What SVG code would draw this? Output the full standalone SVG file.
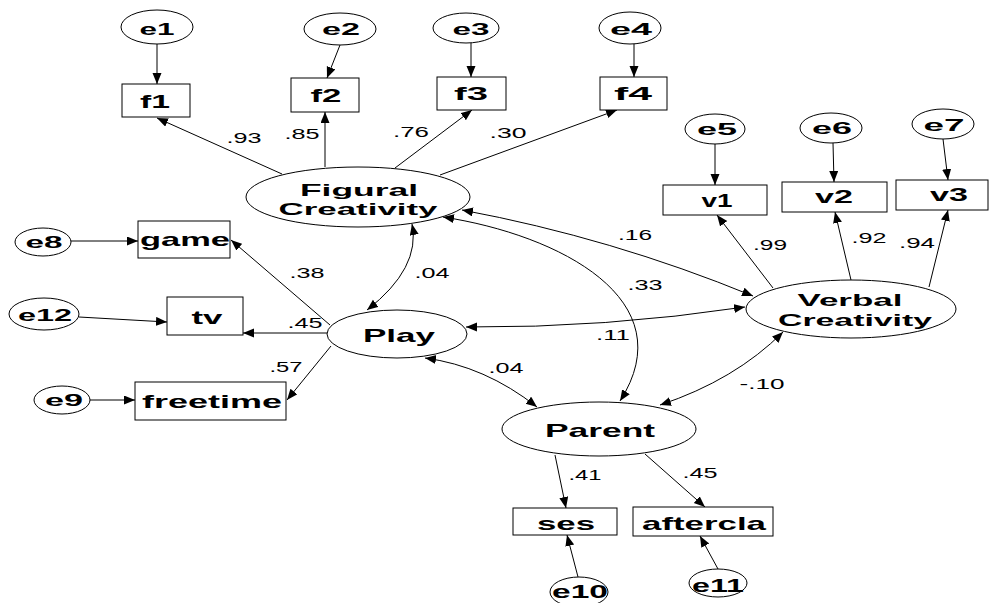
<svg xmlns="http://www.w3.org/2000/svg" width="992" height="603" viewBox="0 0 992 603">
<style>
.nd{fill:#fff;stroke:#000;stroke-width:1}
.ln{fill:none;stroke:#000;stroke-width:1;marker-end:url(#ah)}
.bi{fill:none;stroke:#000;stroke-width:1;marker-end:url(#ah);marker-start:url(#ah)}
.lb{font-family:"Liberation Sans",Arial,sans-serif;font-weight:bold;font-size:19px;text-anchor:middle;fill:#000}
.lt{font-family:"Liberation Sans",Arial,sans-serif;font-weight:bold;font-size:17px;text-anchor:middle;fill:#000}
.el{font-family:"Liberation Sans",Arial,sans-serif;font-weight:bold;font-size:17px;text-anchor:middle;fill:#000}
.num{font-family:"Liberation Sans",Arial,sans-serif;font-size:14px;text-anchor:middle;fill:#000}
</style>
<defs>
<marker id="ah" markerUnits="userSpaceOnUse" markerWidth="12" markerHeight="10" refX="11" refY="4.5" orient="auto-start-reverse">
<path d="M0,0 L11,4.5 L0,9 z" fill="#000"/>
</marker>
</defs>
<rect width="992" height="603" fill="#fff"/>
<g id="connectors">
<line class="ln" x1="157" y1="44" x2="157" y2="84"/>
<line class="ln" x1="340" y1="45" x2="327" y2="78"/>
<line class="ln" x1="471" y1="43" x2="471" y2="77"/>
<line class="ln" x1="634" y1="44" x2="634" y2="77"/>
<line class="ln" x1="282" y1="174" x2="157" y2="118"/>
<line class="ln" x1="325" y1="167" x2="325" y2="112"/>
<line class="ln" x1="395" y1="168" x2="472" y2="110"/>
<line class="ln" x1="440" y1="175" x2="617" y2="110"/>
<line class="ln" x1="715" y1="144" x2="715" y2="185"/>
<line class="ln" x1="833" y1="143" x2="834" y2="182"/>
<line class="ln" x1="943" y1="139" x2="948" y2="180"/>
<line class="ln" x1="773" y1="288" x2="717" y2="215"/>
<line class="ln" x1="851" y1="280" x2="835" y2="212"/>
<line class="ln" x1="929" y1="287" x2="948" y2="210"/>
<line class="ln" x1="71" y1="241" x2="138" y2="241"/>
<line class="ln" x1="79" y1="317" x2="167" y2="322"/>
<line class="ln" x1="90" y1="400" x2="135" y2="400"/>
<line class="ln" x1="330" y1="325" x2="231" y2="240"/>
<line class="ln" x1="327" y1="333" x2="243" y2="333"/>
<line class="ln" x1="331" y1="346" x2="287" y2="400"/>
<line class="ln" x1="555" y1="455" x2="566" y2="508"/>
<line class="ln" x1="645" y1="454" x2="705" y2="507"/>
<line class="ln" x1="578" y1="577" x2="567" y2="535"/>
<line class="ln" x1="718" y1="569" x2="700" y2="536"/>
<path class="bi" d="M412,224 Q421,268 367,310"/>
<path class="bi" d="M462,210 Q612,238 753,296"/>
<path class="bi" d="M443,217 C560,235 685,300 620,401"/>
<path class="bi" d="M466,327 Q605,328 745,307"/>
<path class="bi" d="M425,358 Q485,366 537,407"/>
<path class="bi" d="M783,332 Q735,380 660,405"/>
</g>
<g id="e1"><ellipse class="nd" cx="157" cy="27" rx="36" ry="17"/><text class="el" x="157" y="35" textLength="35" lengthAdjust="spacingAndGlyphs">e1</text></g>
<g id="e2"><ellipse class="nd" cx="340" cy="29" rx="36" ry="16"/><text class="el" x="341" y="35" textLength="38" lengthAdjust="spacingAndGlyphs">e2</text></g>
<g id="e3"><ellipse class="nd" cx="466" cy="28" rx="33" ry="15"/><text class="el" x="471" y="35" textLength="37" lengthAdjust="spacingAndGlyphs">e3</text></g>
<g id="e4"><ellipse class="nd" cx="630" cy="28" rx="31" ry="16"/><text class="el" x="631" y="35" textLength="42" lengthAdjust="spacingAndGlyphs">e4</text></g>
<g id="f1"><rect class="nd" x="122" y="84" width="68" height="33"/><text class="lb" x="155" y="108" textLength="30" lengthAdjust="spacingAndGlyphs">f1</text></g>
<g id="f2"><rect class="nd" x="291" y="78" width="68" height="34"/><text class="lb" x="326" y="102" textLength="31" lengthAdjust="spacingAndGlyphs">f2</text></g>
<g id="f3"><rect class="nd" x="437" y="77" width="69" height="33"/><text class="lb" x="471" y="100" textLength="34" lengthAdjust="spacingAndGlyphs">f3</text></g>
<g id="f4"><rect class="nd" x="600" y="77" width="67" height="33"/><text class="lb" x="633" y="100" textLength="38" lengthAdjust="spacingAndGlyphs">f4</text></g>
<g id="figural"><ellipse class="nd" cx="358" cy="197" rx="112" ry="30"/><text class="lt" x="359" y="196" textLength="118" lengthAdjust="spacingAndGlyphs">Figural</text><text class="lt" x="358" y="215" textLength="159" lengthAdjust="spacingAndGlyphs">Creativity</text></g>
<g id="e5"><ellipse class="nd" cx="715" cy="129" rx="30" ry="15"/><text class="el" x="717" y="135" textLength="40" lengthAdjust="spacingAndGlyphs">e5</text></g>
<g id="e6"><ellipse class="nd" cx="831" cy="128" rx="31" ry="15"/><text class="el" x="832" y="134" textLength="40" lengthAdjust="spacingAndGlyphs">e6</text></g>
<g id="e7"><ellipse class="nd" cx="943" cy="124" rx="31" ry="15"/><text class="el" x="944" y="131" textLength="41" lengthAdjust="spacingAndGlyphs">e7</text></g>
<g id="v1"><rect class="nd" x="663" y="185" width="104" height="30"/><text class="lb" x="717" y="207" textLength="31" lengthAdjust="spacingAndGlyphs">v1</text></g>
<g id="v2"><rect class="nd" x="782" y="182" width="105" height="30"/><text class="lb" x="834" y="203" textLength="38" lengthAdjust="spacingAndGlyphs">v2</text></g>
<g id="v3"><rect class="nd" x="896" y="180" width="92" height="30"/><text class="lb" x="949" y="201" textLength="38" lengthAdjust="spacingAndGlyphs">v3</text></g>
<g id="verbal"><ellipse class="nd" cx="851" cy="309" rx="105" ry="29"/><text class="lt" x="850" y="306" textLength="105" lengthAdjust="spacingAndGlyphs">Verbal</text><text class="lt" x="855" y="326" textLength="154" lengthAdjust="spacingAndGlyphs">Creativity</text></g>
<g id="e8"><ellipse class="nd" cx="43" cy="242" rx="28" ry="14"/><text class="el" x="44" y="248" textLength="37" lengthAdjust="spacingAndGlyphs">e8</text></g>
<g id="game"><rect class="nd" x="138" y="221" width="92" height="37"/><text class="lb" x="185" y="246" textLength="90" lengthAdjust="spacingAndGlyphs">game</text></g>
<g id="e12"><ellipse class="nd" cx="44" cy="314" rx="35" ry="16"/><text class="el" x="45" y="321" textLength="54" lengthAdjust="spacingAndGlyphs">e12</text></g>
<g id="tv"><rect class="nd" x="167" y="297" width="76" height="38"/><text class="lb" x="207" y="324" textLength="31" lengthAdjust="spacingAndGlyphs">tv</text></g>
<g id="e9"><ellipse class="nd" cx="62" cy="400" rx="28" ry="14"/><text class="el" x="64" y="406" textLength="38" lengthAdjust="spacingAndGlyphs">e9</text></g>
<g id="freetime"><rect class="nd" x="135" y="382" width="151" height="38"/><text class="lb" x="212" y="408" textLength="140" lengthAdjust="spacingAndGlyphs">freetime</text></g>
<g id="play"><ellipse class="nd" cx="397" cy="334" rx="70" ry="24"/><text class="lb" x="399" y="342" textLength="72" lengthAdjust="spacingAndGlyphs">Play</text></g>
<g id="parent"><ellipse class="nd" cx="599" cy="429" rx="97" ry="27"/><text class="lb" x="600" y="437" textLength="110" lengthAdjust="spacingAndGlyphs">Parent</text></g>
<g id="ses"><rect class="nd" x="513" y="508" width="104" height="27"/><text class="lb" x="566" y="530" textLength="58" lengthAdjust="spacingAndGlyphs">ses</text></g>
<g id="aftercla"><rect class="nd" x="633" y="507" width="140" height="29"/><text class="lb" x="704" y="530" textLength="124" lengthAdjust="spacingAndGlyphs">aftercla</text></g>
<g id="e10"><ellipse class="nd" cx="579" cy="592" rx="29" ry="15"/><text class="lb" x="580" y="598" textLength="56" lengthAdjust="spacingAndGlyphs" style="font-size:18px">e10</text></g>
<g id="e11"><ellipse class="nd" cx="718" cy="583" rx="29" ry="14"/><text class="lb" x="718" y="592" textLength="52" lengthAdjust="spacingAndGlyphs">e11</text></g>
<g id="labels">
<text class="num" x="244" y="143" textLength="35" lengthAdjust="spacingAndGlyphs">.93</text>
<text class="num" x="302" y="139" textLength="35" lengthAdjust="spacingAndGlyphs">.85</text>
<text class="num" x="411" y="137" textLength="36" lengthAdjust="spacingAndGlyphs">.76</text>
<text class="num" x="508" y="138" textLength="37" lengthAdjust="spacingAndGlyphs">.30</text>
<text class="num" x="770" y="250" textLength="34" lengthAdjust="spacingAndGlyphs">.99</text>
<text class="num" x="869" y="243" textLength="35" lengthAdjust="spacingAndGlyphs">.92</text>
<text class="num" x="917" y="248" textLength="36" lengthAdjust="spacingAndGlyphs">.94</text>
<text class="num" x="307" y="278" textLength="35" lengthAdjust="spacingAndGlyphs">.38</text>
<text class="num" x="305" y="328" textLength="35" lengthAdjust="spacingAndGlyphs">.45</text>
<text class="num" x="286" y="372" textLength="33" lengthAdjust="spacingAndGlyphs">.57</text>
<text class="num" x="432" y="278" textLength="35" lengthAdjust="spacingAndGlyphs">.04</text>
<text class="num" x="635" y="240" textLength="34" lengthAdjust="spacingAndGlyphs">.16</text>
<text class="num" x="645" y="290" textLength="35" lengthAdjust="spacingAndGlyphs">.33</text>
<text class="num" x="613" y="340" textLength="34" lengthAdjust="spacingAndGlyphs">.11</text>
<text class="num" x="506" y="373" textLength="35" lengthAdjust="spacingAndGlyphs">.04</text>
<text class="num" x="762" y="389" textLength="45" lengthAdjust="spacingAndGlyphs">-.10</text>
<text class="num" x="585" y="480" textLength="33" lengthAdjust="spacingAndGlyphs">.41</text>
<text class="num" x="700" y="478" textLength="35" lengthAdjust="spacingAndGlyphs">.45</text>
</g>
</svg>
